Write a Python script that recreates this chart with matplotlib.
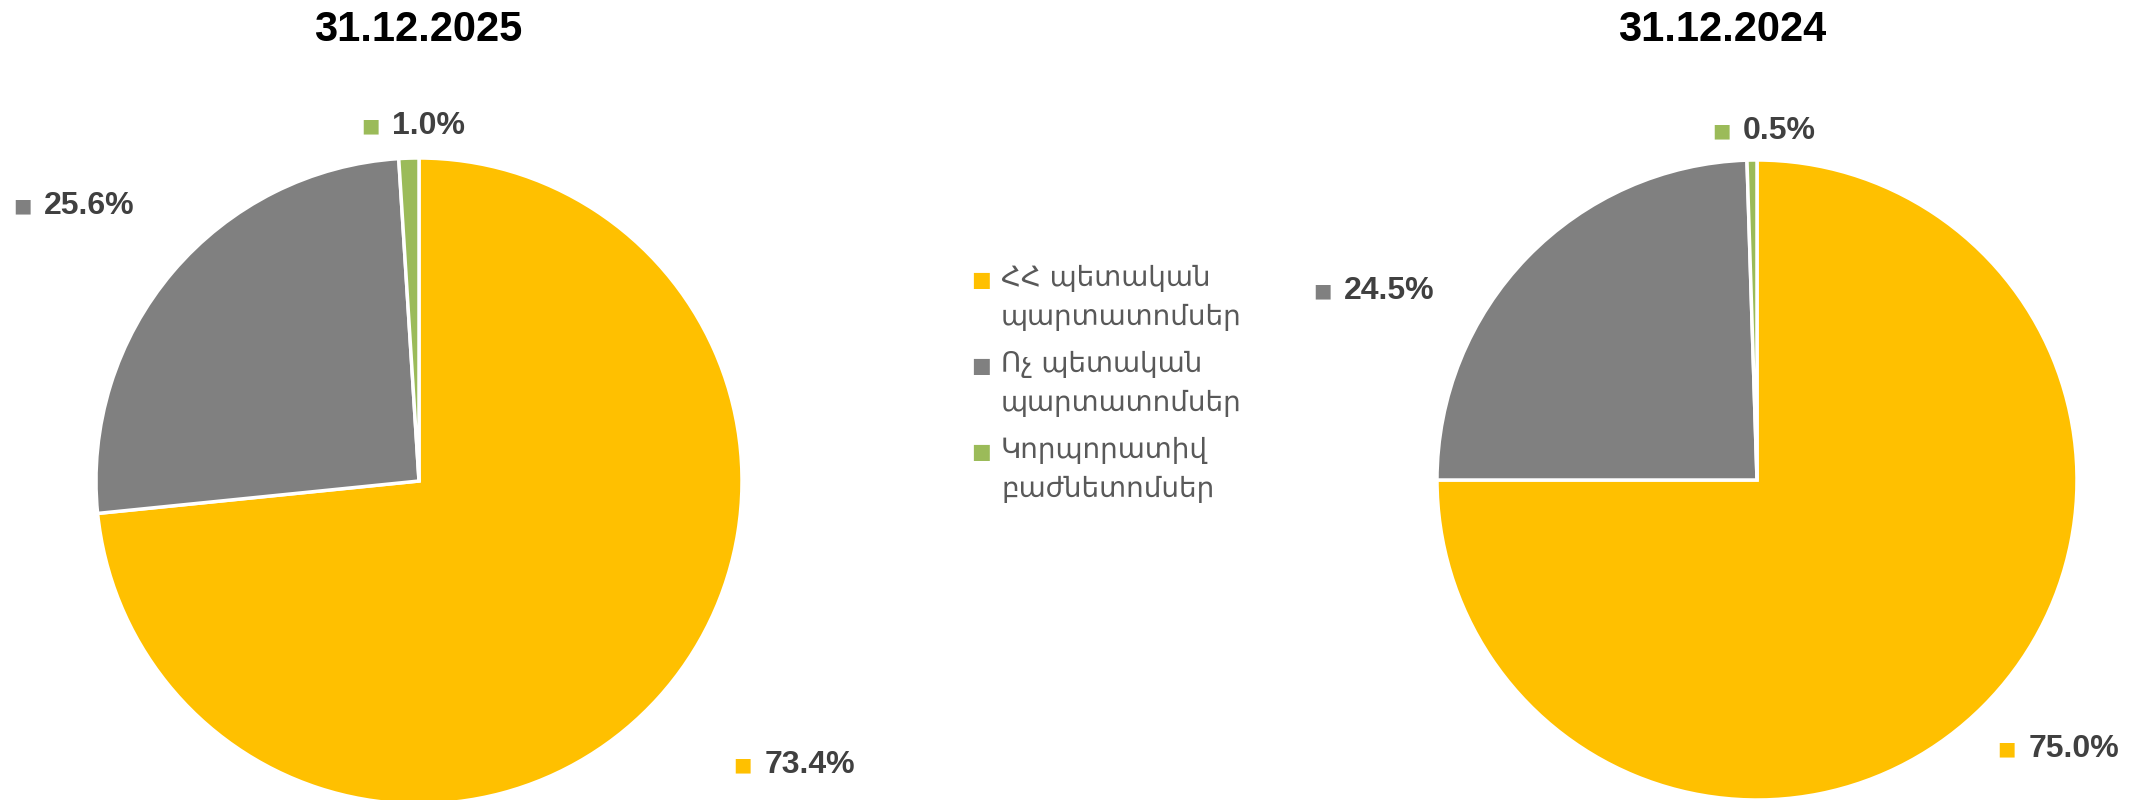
import matplotlib.pyplot as plt

# === data
categories = ["ՀՀ պետական\nպարտատոմսեր", "Ոչ պետական\nպարտատոմսեր", "Կորպորատիվ\nբաժնետոմսեր"]
titles = ["31.12.2025", "31.12.2024"]
vals_2025 = [73.4, 25.6, 1.0]
vals_2024 = [75.0, 24.5, 0.5]
colors = ["#FFC000", "#808080", "#9BBB59"]

# label positions (pie radius units), set by hand like in the source chart
lab_pos_2025 = [(1.21, -0.88), (-1.02, 0.85), (0.03, 1.10)]
lab_pos_2024 = [(0.99, -0.84), (-1.15, 0.59), (0.07, 1.09)]

W, H = 2151, 800
fig = plt.figure(figsize=(W / 100, H / 100), dpi=100)

num_font = ["Liberation Sans", "DejaVu Sans"]
txt_col = "#404040"


def draw_pie(cx, cy, r, vals, lab_pos, title, tx):
    s = 1.6 * r
    ax = fig.add_axes([(cx - s) / W, (H - cy - s) / H, 2 * s / W, 2 * s / H])
    wedges, _ = ax.pie(vals, colors=colors, startangle=90, counterclock=False,
                       radius=1, wedgeprops=dict(edgecolor="white", linewidth=2.5))
    for w in wedges:
        w.set_clip_on(False)
    ax.set_xlim(-s / r, s / r)
    ax.set_ylim(-s / r, s / r)
    ax.axis("off")
    for v, c, (x, y) in zip(vals, colors, lab_pos):
        t = ax.text(x, y, f"{v:.1f}%", ha="center", va="center", fontsize=23,
                    fontweight="bold", color=txt_col, family=num_font)
        ax.annotate("■", xy=(0, 0.5), xycoords=t, xytext=(-9, 0), textcoords="offset points",
                    ha="right", va="center", fontsize=14, color=c, family="DejaVu Sans")
    fig.text(tx / W, 1 - 30 / H, title, ha="center", va="center", fontsize=30,
             fontweight="bold", color="black", family=num_font)


draw_pie(419, 481, 323, vals_2025, lab_pos_2025, titles[0], 418)
draw_pie(1757, 480, 320, vals_2024, lab_pos_2024, titles[1], 1722)

# === legend (manual, markers on first line of each entry)
for i, (lab, c) in enumerate(zip(categories, colors)):
    y = 1 - (264 + i * 86) / H
    fig.text(1001 / W, y, lab, ha="left", va="top", fontsize=20, color="#595959",
             family="DejaVu Sans", linespacing=1.5)
    fig.text(981 / W, 1 - (280 + i * 86) / H, "■", ha="center", va="center",
             fontsize=15, color=c, family="DejaVu Sans")

fig.savefig("out.png", dpi=100)
